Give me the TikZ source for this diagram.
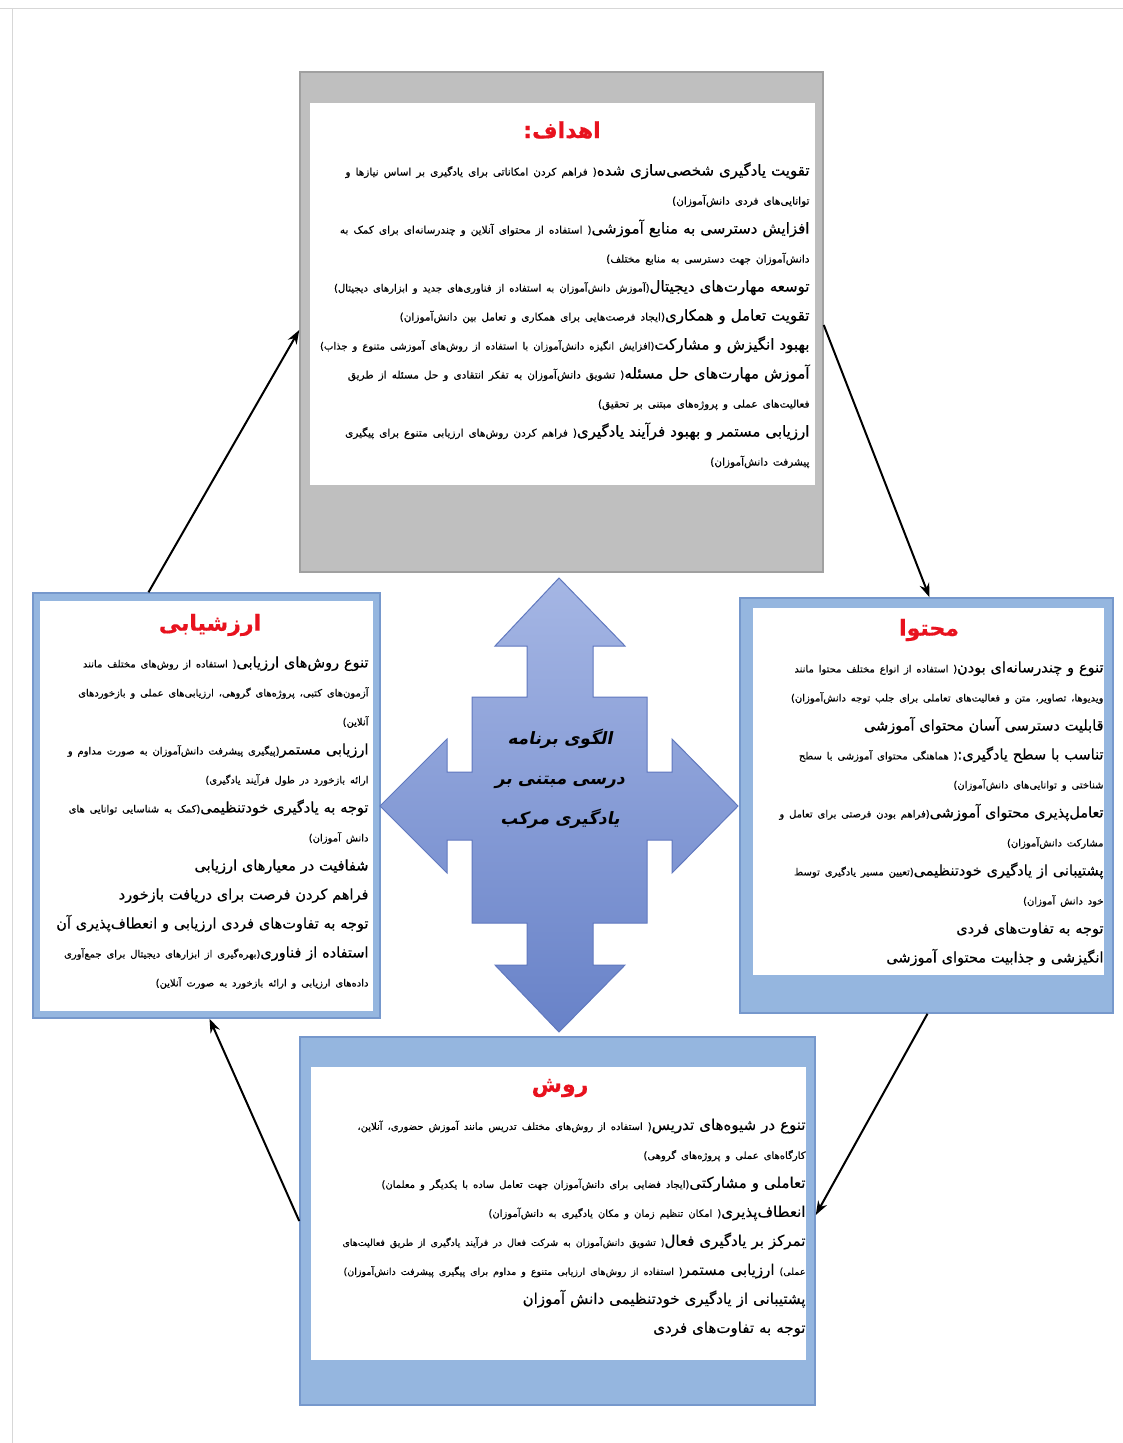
\documentclass[tikz,border=0pt]{standalone}
\usepackage{fontspec}
\usetikzlibrary{arrows.meta, positioning}
\TeXXeTstate=1
\newfontfamily\farsi[Script=Arabic,FakeBold=0.5]{DejaVu Sans}
\newfontfamily\farsislant[Script=Arabic,FakeSlant=0.2]{DejaVu Sans}
% one line, right to left
\newcommand{\rl}[1]{{\beginR #1\endR}}
\newcommand{\mainsz}{}
\newcommand{\subsz}{}
\newcommand{\subtight}{}
\definecolor{boxgray}{RGB}{191,191,191}
\definecolor{boxgrayline}{RGB}{160,160,160}
\definecolor{boxblue}{RGB}{149,182,223}
\definecolor{boxblueline}{RGB}{118,152,204}
\definecolor{arrowtop}{RGB}{165,182,228}
\definecolor{arrowbot}{RGB}{104,130,200}
\definecolor{arrowline}{RGB}{96,120,190}
\definecolor{titlered}{RGB}{232,18,30}
\definecolor{pagegray}{RGB}{215,215,215}

\begin{document}
\begin{tikzpicture}[
        x=1pt, y=-1pt,
        outergray/.style={draw=boxgrayline, fill=boxgray, line width=1.5pt},
        outerblue/.style={draw=boxblueline, fill=boxblue, line width=1.5pt},
        whitebox/.style={fill=white, draw=none},
        boxtitle/.style={text=titlered, font=\farsi\bfseries\fontsize{22}{28}\selectfont, inner sep=0pt},
        boxtext/.style n args={3}{align=right, inner sep=0pt, font=\farsi\fontsize{#1}{29}\selectfont,
            execute at begin node={\def\mainsz{\fontsize{#1}{29}\selectfont}\def\subsz{\fontsize{#2}{29}\selectfont}%
                \def\subtight{\fontsize{#3}{29}\selectfont}}},
        hubtext/.style={align=center, inner sep=0pt, font=\farsislant\bfseries\fontsize{17}{40}\selectfont},
        flow/.style={-{Stealth[length=14pt, width=10pt]}, line width=2pt, black}
    ]
    \useasboundingbox (0,0) rectangle (1123,1443);
    \draw[pagegray, line width=1pt] (0,8) -- (1123,8);
    \draw[pagegray, line width=1pt] (12,8) -- (12,1443);

    % Boxes
    \node[outergray, minimum width=523pt, minimum height=500pt] (goals) at (561.5,322) {};
    \node[whitebox, minimum width=505pt, minimum height=382pt] (goalsin) at (562,294) {};
    \node[outerblue, minimum width=373pt, minimum height=415pt] (content) at (926.5,805.5) {};
    \node[whitebox, minimum width=351pt, minimum height=367pt] (contentin) at (928.5,791.5) {};
    \node[outerblue, minimum width=347pt, minimum height=425pt] (eval) at (206.5,805.5) {};
    \node[whitebox, minimum width=333pt, minimum height=410pt] (evalin) at (206.5,805.5) {};
    \node[outerblue, minimum width=515pt, minimum height=368pt] (method) at (557.5,1221) {};
    \node[whitebox, minimum width=495pt, minimum height=293pt] (methodin) at (558.5,1213.5) {};

    % Hub arrow
    \draw[arrowline, line width=1pt, top color=arrowtop, bottom color=arrowbot]
        (559,578) -- (625,646) -- (593,646) -- (593,697) -- (647,697) -- (647,772) -- (672,772) -- (672,739)
        -- (738,806) -- (672,873) -- (672,840) -- (647,840) -- (647,923) -- (593,923) -- (593,965) -- (625,965)
        -- (559,1032) -- (495,965) -- (527,965) -- (527,923) -- (472,923) -- (472,840) -- (447,840) -- (447,873)
        -- (380,806) -- (447,739) -- (447,772) -- (472,772) -- (472,697) -- (527,697) -- (527,646) -- (495,646) -- cycle;
    \node[hubtext] (hub) at (560,779) {\rl{الگوی برنامه}\\ \rl{درسی مبتنی بر}\\ \rl{یادگیری مرکب}};

    % Titles
    \node[boxtitle] (goalstitle) at (562,130) {\rl{اهداف:}};
    \node[boxtitle] (contenttitle) at (929,630) {\rl{محتوا}};
    \node[boxtitle] (evaltitle) at (210,625) {\rl{ارزشیابی}};
    \node[boxtitle] (methodtitle) at (560,1088) {\rl{روش}};

    % Texts
    \node[boxtext={15}{10.5}{10}, text width=495pt, below=23pt of goalstitle] (goalstext) {%
        \rl{تقویت یادگیری شخصی‌سازی شده\subsz( فراهم کردن امکاناتی برای یادگیری بر اساس نیازها و}\\
        \rl{\subsz توانایی‌های فردی دانش‌آموزان)}\\
        \rl{افزایش دسترسی به منابع آموزشی\subsz( استفاده از محتوای آنلاین و چندرسانه‌ای برای کمک به}\\
        \rl{\subsz دانش‌آموزان جهت دسترسی به منابع مختلف)}\\
        \rl{توسعه مهارت‌های دیجیتال\subtight(آموزش دانش‌آموزان به استفاده از فناوری‌های جدید و ابزارهای دیجیتال)}\\
        \rl{تقویت تعامل و همکاری\subsz(ایجاد فرصت‌هایی برای همکاری و تعامل بین دانش‌آموزان)}\\
        \rl{بهبود انگیزش و مشارکت\subtight(افزایش انگیزه دانش‌آموزان با استفاده از روش‌های آموزشی متنوع و جذاب)}\\
        \rl{آموزش مهارت‌های حل مسئله\subsz( تشویق دانش‌آموزان به تفکر انتقادی و حل مسئله از طریق}\\
        \rl{\subsz فعالیت‌های عملی و پروژه‌های مبتنی بر تحقیق)}\\
        \rl{ارزیابی مستمر و بهبود فرآیند یادگیری\subsz( فراهم کردن روش‌های ارزیابی متنوع برای پیگیری}\\
        \rl{\subsz پیشرفت دانش‌آموزان)}};
    \node[boxtext={14.5}{10}{10}, text width=335pt, below=20pt of contenttitle, xshift=7pt] (contenttext) {%
        \rl{تنوع و چندرسانه‌ای بودن\subsz( استفاده از انواع مختلف محتوا مانند}\\
        \rl{\subsz ویدیوها، تصاویر، متن و فعالیت‌های تعاملی برای جلب توجه دانش‌آموزان)}\\
        \rl{قابلیت دسترسی آسان محتوای آموزشی}\\
        \rl{تناسب با سطح یادگیری:\subsz( هماهنگی محتوای آموزشی با سطح}\\
        \rl{\subsz شناختی و توانایی‌های دانش‌آموزان)}\\
        \rl{تعامل‌پذیری محتوای آموزشی\subsz(فراهم بودن فرصتی برای تعامل و}\\
        \rl{\subsz مشارکت دانش‌آموزان)}\\
        \rl{پشتیبانی از یادگیری خودتنظیمی\subsz(تعیین مسیر یادگیری توسط}\\
        \rl{\subsz خود دانش آموزان)}\\
        \rl{توجه به تفاوت‌های فردی}\\
        \rl{انگیزشی و جذابیت محتوای آموزشی}};
    \node[boxtext={14.5}{10}{10}, text width=323pt, below=20pt of evaltitle, xshift=-3pt] (evaltext) {%
        \rl{تنوع روش‌های ارزیابی\subsz( استفاده از روش‌های مختلف مانند}\\
        \rl{\subsz آزمون‌های کتبی، پروژه‌های گروهی، ارزیابی‌های عملی و بازخوردهای}\\
        \rl{\subsz آنلاین)}\\
        \rl{ارزیابی مستمر\subsz(پیگیری پیشرفت دانش‌آموزان به صورت مداوم و}\\
        \rl{\subsz ارائه بازخورد در طول فرآیند یادگیری)}\\
        \rl{توجه به یادگیری خودتنظیمی\subsz(کمک به شناسایی توانایی های}\\
        \rl{\subsz دانش آموزان)}\\
        \rl{شفافیت در معیارهای ارزیابی}\\
        \rl{فراهم کردن فرصت برای دریافت بازخورد}\\
        \rl{توجه به تفاوت‌های فردی ارزیابی و انعطاف‌پذیری آن}\\
        \rl{استفاده از فناوری\subsz (بهره‌گیری از ابزارهای دیجیتال برای جمع‌آوری}\\
        \rl{\subsz داده‌های ارزیابی و ارائه بازخورد به صورت آنلاین)}};
    \node[boxtext={15}{10}{9.5}, text width=485pt, below=21pt of methodtitle, xshift=3pt] (methodtext) {%
        \rl{تنوع در شیوه‌های تدریس\subsz( استفاده از روش‌های مختلف تدریس مانند آموزش حضوری، آنلاین،}\\
        \rl{\subsz کارگاه‌های عملی و پروژه‌های گروهی)}\\
        \rl{تعاملی و مشارکتی\subsz(ایجاد فضایی برای دانش‌آموزان جهت تعامل ساده با یکدیگر و معلمان)}\\
        \rl{انعطاف‌پذیری\subsz( امکان تنظیم زمان و مکان یادگیری به دانش‌آموزان)}\\
        \rl{تمرکز بر یادگیری فعال\subtight( تشویق دانش‌آموزان به شرکت فعال در فرآیند یادگیری از طریق فعالیت‌های}\\
        \rl{\subtight عملی) \mainsz ارزیابی مستمر\subtight( استفاده از روش‌های ارزیابی متنوع و مداوم برای پیگیری پیشرفت دانش‌آموزان)}\\
        \rl{پشتیبانی از یادگیری خودتنظیمی دانش آموزان}\\
        \rl{توجه به تفاوت‌های فردی}};

    % Arrows
    \draw[flow] ([xshift=-58pt]eval.north) -- ([yshift=-8pt]goals.west);
    \draw[flow] ([yshift=-3pt]goals.east) -- ([xshift=3pt]content.north);
    \draw[flow] ([xshift=1pt]content.south) -- ([yshift=6pt]method.east);
    \draw[flow] (method.west) -- ([xshift=3pt]eval.south);
\end{tikzpicture}
\end{document}
